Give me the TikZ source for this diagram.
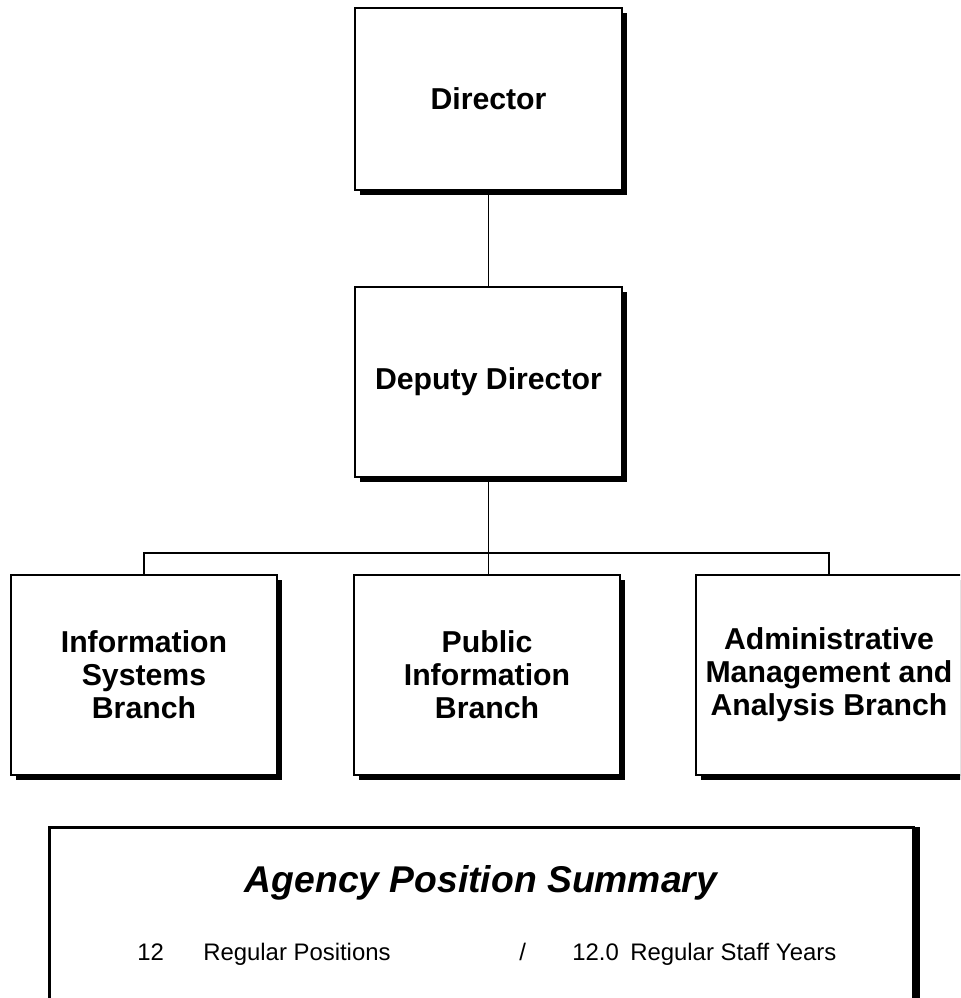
\documentclass[tikz,border=0pt]{standalone}
\usepackage{fontspec}
\setmainfont{Liberation Sans}
\usepackage{tikz}
\usetikzlibrary{shadows}
\newcommand{\widthbox}{6.675cm}
\newcommand{\heighttop}{4.55cm}
\newcommand{\heightbranch}{5cm}
\tikzset{
    common/.style={draw, rectangle, fill=white, line width=1pt, inner sep=0pt, align=center,
        font=\fontsize{21.5}{23.5}\selectfont\bfseries,
        drop shadow={shadow xshift=0.125cm, shadow yshift=-0.125cm, opacity=1, fill=black}},
    office/.style={common, minimum width=\widthbox, minimum height=\heighttop},
    branch/.style={common, minimum width=6.65cm, minimum height=\heightbranch},
    summary/.style={draw, rectangle, fill=white, line width=2.1pt, minimum width=21.6cm, minimum height=5cm,
        drop shadow={shadow xshift=0.16cm, shadow yshift=0cm, opacity=1, fill=black}},
    wire/.style={line width=1pt},
    rowtext/.style={anchor=base west, inner sep=0pt, font=\fontsize{17}{20}\selectfont}
}

\begin{document}
\begin{tikzpicture}[x=0.025cm, y=-0.025cm]
    \useasboundingbox (0,0) rectangle (960,998);
    \clip (0,0) rectangle (960,998);

    \node[office] (dir) at (488.5,99) {Director};
    \node[office, minimum height=4.75cm] (dep) at (488.5,382) {Deputy Director};

    \node[branch] (isb) at (144,675) {Information\\Systems\\Branch};
    \node[branch] (pib) at (487,675) {Public\\Information\\Branch};
    \node[branch] (aab) at (829,675) {Administrative\\Management and\\Analysis Branch};

    \coordinate (bar) at (488.5,553);
    \draw[wire] (dir) -- (dep);
    \draw[wire] (dep) -- (bar);
    \draw[wire] (isb.north) |- (bar) -| (aab.north);
    \draw[wire] (bar) -- (bar |- pib.north);

    \node[summary] (sum) at (481.5,927.5) {};
    \node[anchor=base, inner sep=0pt, font=\fontsize{26.5}{30}\selectfont\bfseries\itshape] (title) at (481,892) {Agency Position Summary};
    \node[rowtext] (npos) at (137,960) {12};
    \node[rowtext] (tpos) at (203,960) {Regular Positions};
    \node[rowtext] (slash) at (519,960) {/};
    \node[rowtext] (nyrs) at (572,960) {12.0};
    \node[rowtext] (tyrs) at (630,960) {Regular Staff Years};
\end{tikzpicture}
\end{document}
